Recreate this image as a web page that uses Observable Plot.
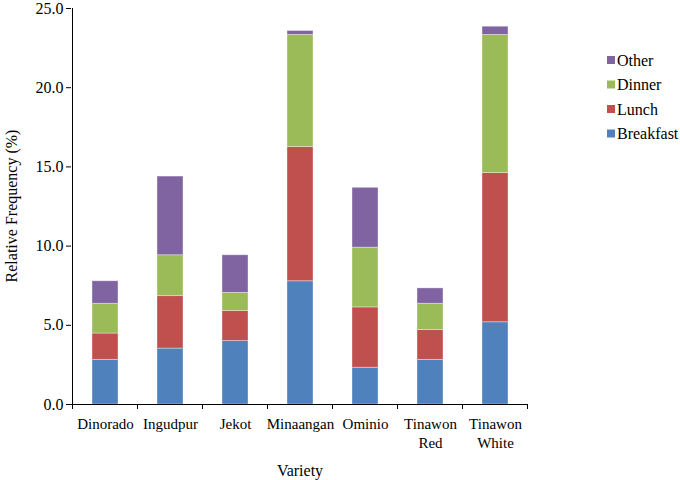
<!DOCTYPE html>
<html>
<head>
<meta charset="utf-8">
<script src="https://cdn.jsdelivr.net/npm/d3@7"></script>
<script src="https://cdn.jsdelivr.net/npm/@observablehq/plot@0.6"></script>
<style>
  html, body { margin: 0; padding: 0; background: #fff; }
  #chart { width: 680px; height: 480px; }
  #chart svg, #chart svg text { font-family: "Liberation Serif", "Times New Roman", serif !important; }
</style>
</head>
<body>
<div id="chart"></div>
<script>
const varieties = ["Dinorado", "Ingudpur", "Jekot", "Minaangan", "Ominio", "Tinawon Red", "Tinawon White"];
const meals = ["Breakfast", "Lunch", "Dinner", "Other"];
const mealColors = ["#4F81BD", "#C0504D", "#9BBB59", "#8064A2"];
const breakfast = [2.82, 3.53, 4.00, 7.78, 2.32, 2.82, 5.19];
const lunch     = [1.66, 3.31, 1.90, 8.48, 3.81, 1.89, 9.42];
const dinner    = [1.88, 2.58, 1.15, 7.07, 3.77, 1.65, 8.72];
const other     = [1.42, 4.97, 2.37, 0.25, 3.78, 0.97, 0.52];
const yTicks = [0, 5, 10, 15, 20, 25];

const seriesValues = [breakfast, lunch, dinner, other];
const data = [];
meals.forEach((m, j) => varieties.forEach((v, i) => data.push({variety: v, meal: m, value: seriesValues[j][i]})));

const FONT = "Liberation Serif";

const plot = Plot.plot({
  width: 680,
  height: 480,
  marginLeft: 71,
  marginRight: 152,
  marginTop: 8,
  marginBottom: 76,
  style: {fontSize: "15px", color: "#000", background: "#fff"},
  x: {domain: varieties, paddingInner: 0.6, paddingOuter: 0.3, label: null},
  y: {domain: [0, 25], label: null},
  color: {domain: meals, range: mealColors},
  marks: [
    Plot.barY(data, Plot.stackY({
      x: "variety", y: "value", fill: "meal", order: meals,
      stroke: "#fff", strokeOpacity: 0.45, strokeWidth: 0.8
    })),
    Plot.axisY({ticks: yTicks, tickFormat: d3.format(".1f"), tickSize: 5, tickPadding: 3, fontSize: 16, label: null}),
    Plot.axisX({tickSize: 0, tickPadding: 11, fontSize: 15, lineHeight: 1.25,
      tickFormat: d => d.replace(" ", "\n"), label: null}),
    Plot.ruleY([0], {stroke: "#000"})
  ]
});

document.getElementById("chart").appendChild(plot);

const svg = d3.select(plot);
const xs = plot.scale("x");
const ys = plot.scale("y");
const y0 = ys.apply(0);
const yTop = ys.apply(25);
const gap = xs.step - xs.bandwidth;
const left = xs.apply(varieties[0]) - gap / 2;

// y axis line
svg.append("line").attr("x1", left).attr("x2", left).attr("y1", yTop).attr("y2", y0)
  .attr("stroke", "#000");
// category boundary ticks
d3.range(varieties.length + 1).forEach(i => {
  const px = left + i * xs.step;
  svg.append("line").attr("x1", px).attr("x2", px).attr("y1", y0).attr("y2", y0 + 5).attr("stroke", "#000");
});

// axis titles
svg.append("text").attr("x", (left + left + varieties.length * xs.step) / 2).attr("y", 476)
  .attr("text-anchor", "middle").attr("font-family", FONT).attr("font-size", 16).attr("fill", "#000")
  .text("Variety");
svg.append("text").attr("transform", `translate(17,${(y0 + yTop) / 2}) rotate(-90)`)
  .attr("text-anchor", "middle").attr("font-family", FONT).attr("font-size", 16).attr("fill", "#000")
  .text("Relative Frequency (%)");

// legend (top to bottom: Other, Dinner, Lunch, Breakfast)
const legendItems = meals.map((m, j) => ({m, c: mealColors[j]})).reverse();
const lg = svg.append("g").attr("transform", "translate(607,60)");
legendItems.forEach((d, k) => {
  const g = lg.append("g").attr("transform", `translate(0,${k * 24.5})`);
  g.append("rect").attr("x", 0).attr("y", -4).attr("width", 8).attr("height", 8).attr("fill", d.c);
  g.append("text").attr("x", 10).attr("y", 0).attr("dy", "0.35em").attr("text-anchor", "start")
    .attr("font-family", FONT).attr("font-size", 16).attr("fill", "#000").text(d.m);
});
</script>
</body>
</html>
